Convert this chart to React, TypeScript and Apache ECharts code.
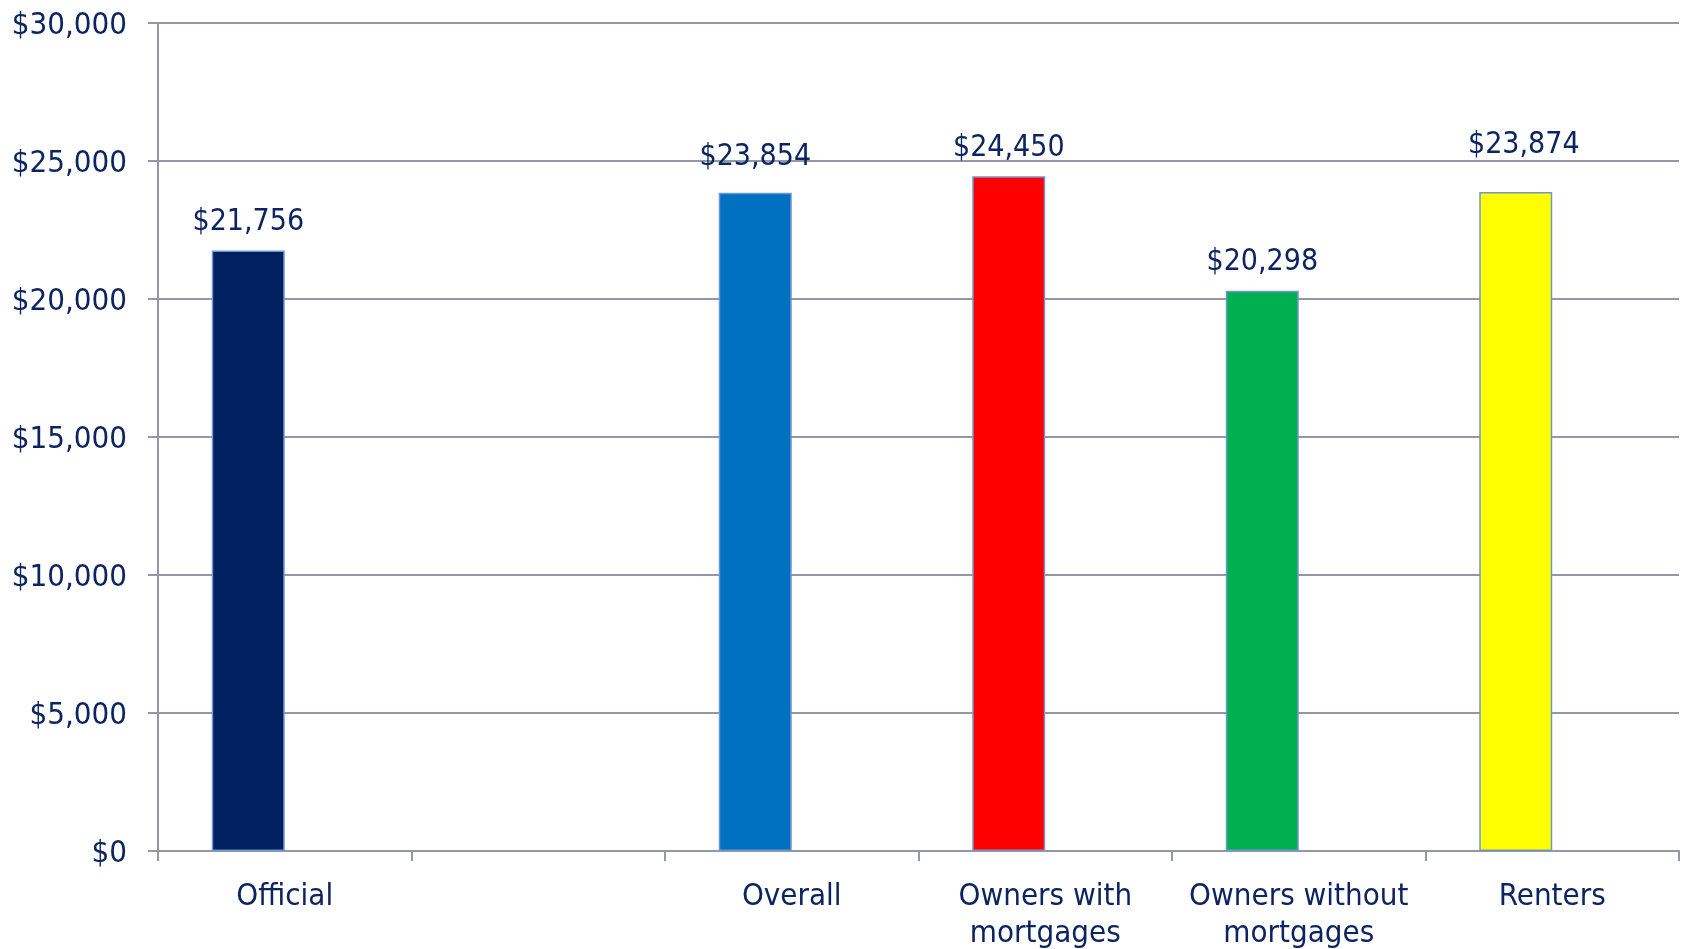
import React, { useEffect, useRef } from "react";
import * as echarts from "echarts";

const categories = ["Official", "", "Overall", "Owners with\nmortgages", "Owners without\nmortgages", "Renters"];
const values = [21756, null, 23854, 24450, 20298, 23874];
const barColors = ["#002060", "#ffffff", "#0070C0", "#FF0000", "#00B050", "#FFFF00"];
const yTicks = { min: 0, max: 30000, interval: 5000 };

const FONT = "'DejaVu Sans Condensed', 'Liberation Sans', sans-serif";
const TEXT = "#0c2462";
const GRID = "#9597a8";
// per-bar label nudges as seen in the reference
const labelOffsets: [number, number][] = [[0, 0], [0, 0], [0, -7], [0, 0], [0, 0], [8, -19]];

export default function App() {
  const ref = useRef<HTMLDivElement>(null);
  useEffect(() => {
    if (!ref.current) return;
    const chart = echarts.init(ref.current, null, { renderer: "svg" });
    const fmt = (v: number) => "$" + Math.round(v).toLocaleString("en-US");
    chart.setOption({
      animation: false,
      grid: { left: 158, right: 2, top: 23, bottom: 98, containLabel: false },
      xAxis: {
        type: "category",
        data: categories,
        axisLine: { lineStyle: { color: GRID, width: 2 } },
        axisTick: { show: true, length: 10, lineStyle: { color: GRID, width: 2 } },
        axisLabel: {
          color: TEXT,
          fontFamily: FONT,
          fontSize: 31,
          lineHeight: 37,
          margin: 24,
          interval: 0,
        },
      },
      yAxis: {
        type: "value",
        min: yTicks.min,
        max: yTicks.max,
        interval: yTicks.interval,
        axisLine: { show: true, lineStyle: { color: GRID, width: 2 } },
        axisTick: { show: true, length: 10, lineStyle: { color: GRID, width: 2 } },
        splitLine: { lineStyle: { color: GRID, width: 2 } },
        axisLabel: {
          color: TEXT,
          fontFamily: FONT,
          fontSize: 31,
          margin: 31,
          formatter: fmt,
        },
      },
      series: [
        {
          type: "bar",
          barWidth: 73,
          barGap: "0%",
          data: values.map((v, i) => ({
            value: v === null ? "-" : v,
            itemStyle: { color: barColors[i], borderColor: "#7096cf", borderWidth: 1.5 },
            label: { offset: labelOffsets[i] },
          })),
          label: {
            show: true,
            position: "top",
            distance: 16,
            color: TEXT,
            fontFamily: FONT,
            fontSize: 30,
            formatter: (p: any) => fmt(p.value),
          },
        },
        {
          type: "bar",
          barWidth: 73,
          barGap: "0%",
          data: values.map(() => "-"),
        },
      ],
    });
    return () => chart.dispose();
  }, []);
  return (
    <div
      ref={ref}
      style={{ position: "fixed", left: 0, top: 0, width: 1681, height: 949 }}
    />
  );
}
